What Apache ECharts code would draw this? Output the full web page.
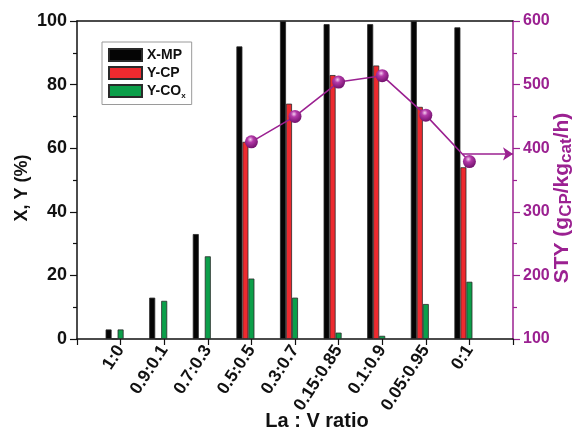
<!DOCTYPE html>
<html><head><meta charset="utf-8">
<script src="https://cdn.jsdelivr.net/npm/echarts@6/dist/echarts.min.js"></script>
<style>html,body{margin:0;padding:0;background:#fff}#c{width:573px;height:435px}</style>
</head><body><div id="c"></div>
<script>
const categories = ['1:0','0.9:0.1','0.7:0.3','0.5:0.5','0.3:0.7','0.15:0.85','0.1:0.9','0.05:0.95','0:1'];
const xMP  = [3, 13, 33, 92, 100, 99, 99, 100, 98];
const yCP  = [0, 0, 0, 62, 74, 83, 86, 73, 54];
const yCOx = [3, 12, 26, 19, 13, 2, 1, 11, 18];
const sty  = [null, null, null, 410, 450, 504, 514, 452, 379];
const arrowLevel = 391;

const FONT = "'Liberation Sans', Arial, sans-serif";
const PURPLE = '#9b2191';
const pairs = arr => arr.map((v, i) => v === null ? null : [i + 1, v]).filter(p => p);

const chart = echarts.init(document.getElementById('c'), null, {renderer: 'canvas'});
const barBorder = {borderColor: '#2a2a2a', borderWidth: 0.8};
chart.setOption({
  animation: false,
  backgroundColor: '#fff',
  textStyle: {fontFamily: FONT},
  grid: {left: 77, right: 60, top: 21, bottom: 96, outerBoundsMode: 'none', containLabel: false},
  legend: {
    orient: 'vertical', left: 102, top: 42,
    data: ['X-MP', 'Y-CP', 'Y-COx'],
    itemWidth: 33, itemHeight: 12, itemGap: 4,
    padding: [6, 6, 5, 6],
    borderColor: '#9a9a9a', borderWidth: 1,
    icon: 'rect',
    formatter: n => n === 'Y-COx' ? 'Y-CO{s|x}' : n,
    textStyle: {fontFamily: FONT, fontWeight: 'bold', fontSize: 14, color: '#111',
      rich: {s: {fontFamily: FONT, fontWeight: 'bold', fontSize: 8, color: '#111', padding: [9, 0, 0, 0]}}}
  },
  xAxis: [{
    type: 'value', min: 0, max: 10, interval: 1,
    name: 'La : V ratio', nameLocation: 'middle', nameGap: 72, nameMoveOverlap: false,
    nameTextStyle: {fontFamily: FONT, fontWeight: 'bold', fontSize: 20, color: '#111', padding: [0, 0, 0, 44]},
    axisLine: {show: true, onZero: false, lineStyle: {color: '#111', width: 1.5}},
    axisTick: {show: true, inside: false, length: 6, lineStyle: {color: '#111', width: 1.2}},
    axisLabel: {rotate: 57, margin: 8, fontFamily: FONT, fontWeight: 'bold', fontSize: 17.5, color: '#111',
      formatter: v => categories[v - 1] || ''},
    splitLine: {show: false}
  }, {
    type: 'value', min: 0, max: 10, position: 'top',
    axisLine: {show: true, onZero: false, lineStyle: {color: '#111', width: 1.5}},
    axisTick: {show: false}, axisLabel: {show: false}, splitLine: {show: false}
  }],
  yAxis: [{
    type: 'value', min: 0, max: 100, interval: 20, position: 'left',
    name: 'X, Y (%)', nameLocation: 'middle', nameGap: 46, nameMoveOverlap: false,
    nameTextStyle: {fontFamily: FONT, fontWeight: 'bold', fontSize: 18, color: '#111', padding: [0, 16, 0, 0]},
    axisLine: {show: true, onZero: false, lineStyle: {color: '#111', width: 1.5}},
    axisTick: {show: true, inside: false, length: 7, lineStyle: {color: '#111', width: 1.2}},
    minorTick: {show: true, splitNumber: 2, length: 4, lineStyle: {color: '#111', width: 1.2}},
    axisLabel: {margin: 10, fontFamily: FONT, fontWeight: 'bold', fontSize: 18, color: '#111'},
    splitLine: {show: false}
  }, {
    type: 'value', min: 100, max: 600, interval: 100, position: 'right',
    name: 'STY (g{s|CP}/kg{s|cat}/h)', nameLocation: 'middle', nameGap: 37, nameRotate: 90, nameMoveOverlap: false,
    nameTextStyle: {fontFamily: FONT, fontWeight: 'bold', fontSize: 21, color: PURPLE, padding: [0, 36, 0, 0],
      rich: {s: {fontFamily: FONT, fontWeight: 'bold', fontSize: 17, color: PURPLE, padding: [8, 0, 0, 0]}}},
    axisLine: {show: true, onZero: false, lineStyle: {color: PURPLE, width: 1.5}},
    axisTick: {show: true, inside: false, length: 7, lineStyle: {color: PURPLE, width: 1.2}},
    minorTick: {show: true, splitNumber: 2, length: 4, lineStyle: {color: PURPLE, width: 1.2}},
    axisLabel: {margin: 10, fontFamily: FONT, fontWeight: 'bold', fontSize: 16, color: PURPLE},
    splitLine: {show: false}
  }],
  series: [
    {name: 'X-MP', type: 'bar', xAxisIndex: 0, yAxisIndex: 0, barWidth: 6, barGap: 0,
      itemStyle: Object.assign({color: '#050505'}, barBorder), data: pairs(xMP)},
    {name: 'Y-CP', type: 'bar', xAxisIndex: 0, yAxisIndex: 0, barWidth: 6, barGap: 0,
      itemStyle: Object.assign({color: '#ee2a2f'}, barBorder), data: pairs(yCP)},
    {name: 'Y-COx', type: 'bar', xAxisIndex: 0, yAxisIndex: 0, barWidth: 6, barGap: 0,
      itemStyle: Object.assign({color: '#0c9f4a'}, barBorder), data: pairs(yCOx)},
    {name: 'spacer', type: 'bar', xAxisIndex: 0, yAxisIndex: 0, barWidth: 12, barGap: 0,
      silent: true, itemStyle: {opacity: 0}, data: []},
    {name: 'STY', type: 'line', xAxisIndex: 0, yAxisIndex: 1, z: 5,
      data: pairs(sty), symbol: 'circle', symbolSize: 13,
      lineStyle: {color: PURPLE, width: 1.6},
      itemStyle: {color: {type: 'radial', x: 0.42, y: 0.32, r: 0.65,
        colorStops: [{offset: 0, color: '#f4d0f0'}, {offset: 0.35, color: '#b43aa9'}, {offset: 1, color: '#761370'}]},
        borderWidth: 0},
      markLine: {silent: true, symbol: ['none', 'arrow'], symbolSize: 10,
        label: {show: false},
        lineStyle: {color: PURPLE, width: 1.6, type: 'solid'},
        data: [[{coord: [8.85, arrowLevel]}, {coord: [10, arrowLevel]}]]}
    }
  ]
});
</script>
</body></html>
